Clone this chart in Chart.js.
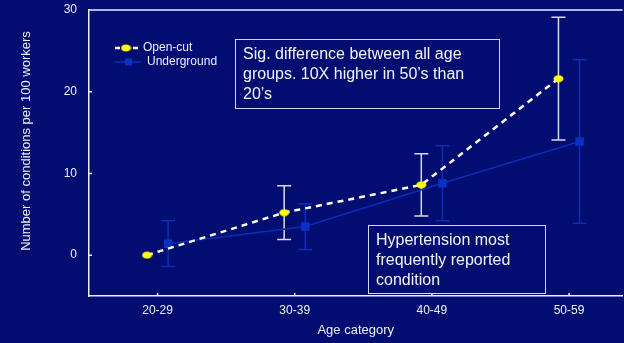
<!DOCTYPE html>
<html>
<head>
<meta charset="utf-8">
<script src="https://cdn.jsdelivr.net/npm/chart.js@4.4.1/dist/chart.umd.min.js"></script>
<style>
  body { margin: 0; background: #010d70; }
  #wrap { position: relative; width: 624px; height: 343px; background: #010d70; overflow: hidden; }
  .note {
    position: absolute; box-sizing: border-box;
    border: 1.5px solid #d4d6ec; color: #f4f4f8;
    font: 16px Arial, "Liberation Sans", sans-serif; line-height: 20px;
    padding: 4px 0 0 7px; white-space: nowrap;
  }
</style>
</head>
<body>
<div id="wrap">
  <!-- the plot runs off the right edge, as in the original slide -->
  <canvas id="chart" width="630" height="343"></canvas>
  <div class="note" style="left:235px; top:39px; width:265px; height:70px;">Sig. difference between all age<br>groups. 10X higher in 50’s than<br>20’s</div>
  <div class="note" style="left:368px; top:225px; width:178px; height:69px;">Hypertension most<br>frequently reported<br>condition</div>
</div>
<script>
// chart data
const ageGroups = ["20-29", "30-39", "40-49", "50-59"];
const openCut = [0, 5.2, 8.6, 21.6];
const openCutErr = [0, 3.3, 3.8, 7.5];
const underground = [1.4, 3.5, 8.8, 13.9];
const undergroundErr = [2.8, 2.8, 4.6, 10.0];
const yTicks = [0, 10, 20, 30];

const textColor = "#eceef8";
const ugBlue = "#0a2cb8";

// yellow oval marker
const dot = document.createElement("canvas");
dot.width = 11; dot.height = 8;
const dctx = dot.getContext("2d");
dctx.fillStyle = "#ffff00";
dctx.beginPath();
dctx.ellipse(5.5, 4, 5, 3.5, 0, 0, Math.PI * 2);
dctx.fill();

// error bars, frame, legend and y title
const extras = {
    id: "extras",
    beforeDatasetsDraw(chart) {
        const ctx = chart.ctx;
        const xs = chart.scales.x, ys = chart.scales.y;
        chart.data.datasets.forEach((ds, i) => {
            ctx.save();
            ctx.strokeStyle = ds.errColor;
            ctx.lineWidth = 1.5;
            ds.data.forEach((p, j) => {
                const e = ds.errors[j];
                if (!e) return;
                const x = xs.getPixelForValue(p.x);
                const y1 = ys.getPixelForValue(p.y + e);
                const y2 = ys.getPixelForValue(p.y - e);
                ctx.beginPath();
                ctx.moveTo(x, y1); ctx.lineTo(x, y2);
                ctx.moveTo(x - 7, y1); ctx.lineTo(x + 7, y1);
                ctx.moveTo(x - 7, y2); ctx.lineTo(x + 7, y2);
                ctx.stroke();
            });
            ctx.restore();
        });
    },
    afterDraw(chart) {
        const ctx = chart.ctx;
        const a = chart.chartArea;
        const xs = chart.scales.x, ys = chart.scales.y;
        ctx.save();
        ctx.strokeStyle = "#f0f0f8";
        ctx.lineWidth = 1.5;
        ctx.beginPath();
        ctx.moveTo(a.left, a.top); ctx.lineTo(a.right, a.top);
        // small inward ticks
        ys.ticks.forEach(t => {
            const y = ys.getPixelForValue(t.value);
            ctx.moveTo(a.left, y); ctx.lineTo(a.left + 3, y);
        });
        xs.ticks.forEach(t => {
            const x = xs.getPixelForValue(t.value);
            ctx.moveTo(x, a.bottom); ctx.lineTo(x, a.bottom - 3);
        });
        ctx.stroke();

        // legend
        ctx.font = "12px Arial, 'Liberation Sans', sans-serif";
        ctx.fillStyle = textColor;
        ctx.textBaseline = "middle";
        ctx.strokeStyle = "#ffffff";
        ctx.lineWidth = 2.5;
        ctx.setLineDash([5, 4]);
        ctx.beginPath(); ctx.moveTo(115, 48); ctx.lineTo(138, 48); ctx.stroke();
        ctx.setLineDash([]);
        ctx.drawImage(dot, 126 - 5.5, 48 - 4);
        ctx.fillText("Open-cut", 143, 48);
        ctx.strokeStyle = ugBlue;
        ctx.lineWidth = 1.5;
        ctx.beginPath(); ctx.moveTo(115, 62); ctx.lineTo(141, 62); ctx.stroke();
        ctx.fillStyle = "#0a30c4";
        ctx.fillRect(125, 58.5, 7, 7);
        ctx.fillStyle = textColor;
        ctx.fillText("Underground", 147, 62);

        // y axis title
        ctx.font = "13px Arial, 'Liberation Sans', sans-serif";
        ctx.textAlign = "center";
        ctx.translate(26, 141);
        ctx.rotate(-Math.PI / 2);
        ctx.fillText("Number of conditions per 100 workers", 0, 0);
        ctx.restore();
    }
};

const ctx = document.getElementById("chart").getContext("2d");
const chart = new Chart(ctx, {
    type: "scatter",
    data: {
        datasets: [{
            label: "Open-cut",
            data: openCut.map((v, i) => ({ x: i - 0.077, y: v })),
            errors: openCutErr,
            errColor: "#d8dae8",
            showLine: true,
            borderColor: "#ffffff",
            borderWidth: 2.5,
            borderDash: [6, 5],
            pointStyle: dot,
            pointRadius: 5,
            pointHoverRadius: 5,
        }, {
            label: "Underground",
            data: underground.map((v, i) => ({ x: i + 0.077, y: v })),
            errors: undergroundErr,
            errColor: ugBlue,
            showLine: true,
            borderColor: ugBlue,
            borderWidth: 1.5,
            pointStyle: "rect",
            pointRadius: 6,
            pointHoverRadius: 6,
            pointBackgroundColor: "#0a30c4",
            pointBorderWidth: 0,
        }],
    },
    options: {
        responsive: false,
        animation: false,
        events: [],
        layout: { padding: { top: 10, right: 0, left: 0, bottom: 0 } },
        plugins: { legend: { display: false }, tooltip: { enabled: false } },
        scales: {
            x: {
                type: "linear",
                min: -0.5,
                max: 3.39,
                afterBuildTicks: s => { s.ticks = ageGroups.map((g, i) => ({ value: i })); },
                afterFit: s => { s.height = 47; s.paddingLeft = 0; s.paddingRight = 0; },
                ticks: {
                    callback: v => ageGroups[v],
                    color: textColor,
                    font: { family: "Arial, 'Liberation Sans', sans-serif", size: 12 },
                    padding: 7,
                    maxRotation: 0,
                },
                grid: { drawOnChartArea: false, drawTicks: false },
                border: { color: "#f0f0f8", width: 1.5 },
                title: {
                    display: true,
                    text: "Age category",
                    color: textColor,
                    font: { family: "Arial, 'Liberation Sans', sans-serif", size: 13 },
                    padding: { top: 0, bottom: 5 },
                },
            },
            y: {
                min: -5,
                max: 30,
                afterBuildTicks: s => { s.ticks = yTicks.map(v => ({ value: v })); },
                afterFit: s => { s.width = 89; s.paddingTop = 0; s.paddingBottom = 0; },
                ticks: {
                    color: textColor,
                    font: { family: "Arial, 'Liberation Sans', sans-serif", size: 12 },
                    padding: 12,
                },
                grid: { drawOnChartArea: false, drawTicks: false },
                border: { color: "#f0f0f8", width: 1.5 },
            },
        },
    },
    plugins: [extras],
});
</script>
</body>
</html>
